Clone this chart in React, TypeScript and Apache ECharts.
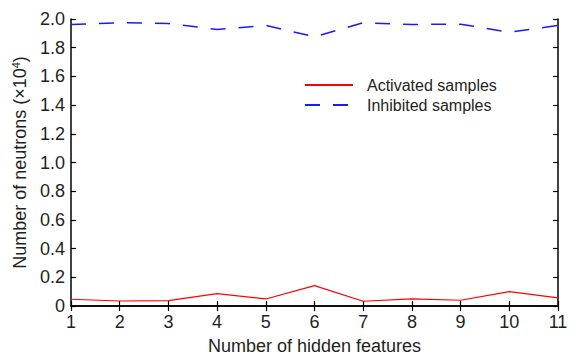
import React, { useEffect, useRef } from "react";
import * as echarts from "echarts";

const hiddenFeatures = [1, 2, 3, 4, 5, 6, 7, 8, 9, 10, 11];
const activated = [0.047, 0.035, 0.037, 0.086, 0.049, 0.142, 0.033, 0.049, 0.04, 0.1, 0.056];
const inhibited = [1.962, 1.974, 1.969, 1.927, 1.955, 1.876, 1.974, 1.962, 1.964, 1.908, 1.955];

const FONT = "Liberation Sans";
const TXT = "#231f20";

export default function App() {
  const ref = useRef<HTMLDivElement>(null);
  useEffect(() => {
    if (!ref.current) return;
    const chart = echarts.init(ref.current, undefined, { renderer: "svg" });
    const axisLine = { show: true, lineStyle: { color: "#000", width: 1.5 } };
    const tick = { show: true, inside: true, length: 5, lineStyle: { color: "#000", width: 1.2 } };
    chart.setOption({
      animation: false,
      backgroundColor: "#fff",
      textStyle: { fontFamily: FONT },
      grid: { left: 71, right: 18, top: 19, bottom: 52, containLabel: false },
      legend: {
        orient: "vertical",
        left: 304,
        top: 75,
        padding: 0,
        itemWidth: 48,
        itemHeight: 14,
        itemGap: 0,
        itemStyle: { opacity: 0 },
        textStyle: { fontFamily: FONT, fontSize: 16, color: TXT, lineHeight: 20, padding: [0, 0, 0, 9] },
        data: ["Activated samples", "Inhibited samples"],
      },
      xAxis: [
        {
          type: "value",
          min: 1,
          max: 11,
          interval: 1,
          position: "bottom",
          axisLine,
          axisTick: tick,
          splitLine: { show: false },
          axisLabel: { fontFamily: FONT, fontSize: 18, color: TXT, margin: 7 },
          name: "Number of hidden features",
          nameLocation: "middle",
          nameGap: 31,
          nameTextStyle: { fontFamily: FONT, fontSize: 18, color: TXT },
        },
        {
          type: "value",
          min: 1,
          max: 11,
          interval: 1,
          position: "top",
          axisLine,
          axisTick: tick,
          splitLine: { show: false },
          axisLabel: { show: false },
        },
      ],
      yAxis: [
        {
          type: "value",
          min: 0,
          max: 2,
          interval: 0.2,
          position: "left",
          axisLine,
          axisTick: tick,
          splitLine: { show: false },
          axisLabel: {
            fontFamily: FONT,
            fontSize: 18,
            color: TXT,
            margin: 6,
            formatter: (v: number) => (Math.abs(v) < 1e-9 ? "0" : v.toFixed(1)),
          },
          name: "Number of neutrons (×10{sup|4})",
          nameLocation: "middle",
          nameGap: 39,
          nameTextStyle: {
            fontFamily: FONT,
            fontSize: 18,
            color: TXT,
            rich: { sup: { fontFamily: FONT, fontSize: 11, color: TXT, verticalAlign: "top", padding: [0, 0, 8, 0] } },
          },
        },
        {
          type: "value",
          min: 0,
          max: 2,
          interval: 0.2,
          position: "right",
          axisLine,
          axisTick: tick,
          splitLine: { show: false },
          axisLabel: { show: false },
        },
      ],
      series: [
        {
          name: "Activated samples",
          type: "line",
          xAxisIndex: 0,
          yAxisIndex: 0,
          data: hiddenFeatures.map((x, i) => [x, activated[i]]),
          showSymbol: false,
          symbol: "none",
          lineStyle: { color: "#ff0000", width: 1.2, type: "solid" },
          itemStyle: { color: "#ff0000" },
        },
        {
          name: "Inhibited samples",
          type: "line",
          xAxisIndex: 0,
          yAxisIndex: 0,
          data: hiddenFeatures.map((x, i) => [x, inhibited[i]]),
          showSymbol: false,
          symbol: "none",
          lineStyle: { color: "#1a1aff", width: 1.5, type: [15, 13] },
          itemStyle: { color: "#1a1aff" },
        },
      ],
    });
    return () => chart.dispose();
  }, []);
  return <div ref={ref} style={{ width: 576, height: 360, position: "absolute", left: 0, top: 0 }} />;
}
